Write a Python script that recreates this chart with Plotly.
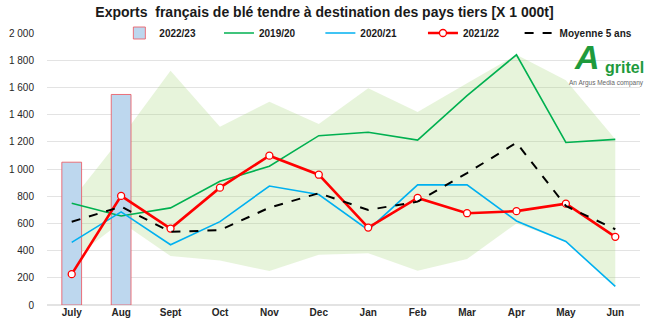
import plotly.graph_objects as go

months = ["July", "Aug", "Sept", "Oct", "Nov", "Dec", "Jan", "Feb", "Mar", "Apr", "May", "Jun"]
y2022_23 = [1050, 1548, None, None, None, None, None, None, None, None, None, None]
y2019_20 = [748, 655, 714, 910, 1020, 1245, 1270, 1213, 1540, 1840, 1195, 1218]
y2020_21 = [460, 685, 443, 613, 875, 812, 552, 883, 883, 618, 467, 137]
y2021_22 = [227, 802, 562, 863, 1098, 958, 569, 787, 675, 690, 745, 501]
avg5 = [612, 723, 538, 550, 716, 822, 699, 760, 970, 1193, 728, 557]
band_low = [330, 610, 360, 328, 250, 370, 381, 252, 338, 600, 467, 137]
band_high = [770, 1230, 1722, 1310, 1494, 1330, 1594, 1420, 1630, 1840, 1652, 1218]
yticks = list(range(0, 2001, 200))

FONT = "Liberation Sans"
fig = go.Figure()

# min/max band on base axes (drawn beneath bars)
fig.add_trace(go.Scatter(x=months, y=band_low, mode="lines", line=dict(width=0),
                         showlegend=False, hoverinfo="skip", xaxis="x", yaxis="y"))
fig.add_trace(go.Scatter(x=months, y=band_high, mode="lines", line=dict(width=0),
                         fill="tonexty", fillcolor="rgba(160,210,110,0.25)",
                         showlegend=False, hoverinfo="skip", xaxis="x", yaxis="y"))

# overlay axes: bars and lines
fig.add_trace(go.Bar(x=months, y=y2022_23, name="<b>2022/23</b>", width=0.4, legend="legend",
                     marker=dict(color="#bdd7ee", line=dict(color="rgba(235,90,100,0.85)", width=1)),
                     xaxis="x2", yaxis="y2"))
fig.add_trace(go.Scatter(x=months, y=y2019_20, name="<b>2019/20</b>", mode="lines", legend="legend2",
                         line=dict(color="#00b050", width=1.6), xaxis="x2", yaxis="y2"))
fig.add_trace(go.Scatter(x=months, y=y2020_21, name="<b>2020/21</b>", mode="lines", legend="legend3",
                         line=dict(color="#00b0f0", width=1.6), xaxis="x2", yaxis="y2"))
fig.add_trace(go.Scatter(x=months, y=y2021_22, name="<b>2021/22</b>", mode="lines+markers",
                         legend="legend4",
                         line=dict(color="#ff0000", width=2.6),
                         marker=dict(symbol="circle", size=7, color="white",
                                     line=dict(color="#ff0000", width=1.3)),
                         xaxis="x2", yaxis="y2"))
fig.add_trace(go.Scatter(x=months, y=avg5, name="<b>Moyenne 5 ans</b>", mode="lines", legend="legend5",
                         line=dict(color="black", width=2, dash="dash"), xaxis="x2", yaxis="y2"))

def leg(xp):
    return dict(orientation="h", x=xp, xanchor="left", y=1.0, yanchor="middle",
                font=dict(family=FONT, size=10, color="#1a1a1a"), itemwidth=30,
                bgcolor="rgba(0,0,0,0)")

fig.update_layout(
    width=649, height=329,
    margin=dict(l=44, r=9, t=33, b=24),
    paper_bgcolor="white", plot_bgcolor="white",
    separators=", ",
    font=dict(family=FONT, size=10, color="#262626"),
    title=dict(text="<b>Exports  français de blé tendre à destination des pays tiers [X 1 000t]</b>",
               x=0.5, xanchor="center", y=0.962, yanchor="middle",
               font=dict(family=FONT, size=14, color="#1a1a1a")),
    xaxis=dict(type="category", categoryorder="array", categoryarray=months, range=[-0.5, 11.5],
               showgrid=False, showline=False, ticks="", showticklabels=True,
               tickfont=dict(family=FONT, size=10, color="#262626"), tickprefix="<b>", ticksuffix="</b>"),
    yaxis=dict(range=[0, 2000], tickvals=yticks, tickformat=",d", showgrid=True,
               gridcolor="#e3e3e3", gridwidth=1, zeroline=True, zerolinecolor="#e3e3e3",
               showline=False, ticks="", ticklabelstandoff=12,
               tickfont=dict(family=FONT, size=10, color="#262626"), tickprefix="<b>", ticksuffix="</b>"),
    xaxis2=dict(type="category", categoryorder="array", categoryarray=months, range=[-0.5, 11.5],
                overlaying="x", showgrid=False, showticklabels=False, showline=False, ticks="",
                matches="x"),
    yaxis2=dict(range=[0, 2000], overlaying="y", showgrid=False, showticklabels=False,
                zeroline=False, showline=False, ticks="", matches="y"),
    legend=leg(0.122),
    legend2=leg(0.290),
    legend3=leg(0.461),
    legend4=leg(0.634),
    legend5=leg(0.797),
    showlegend=True,
)

# logo text
fig.add_annotation(xref="paper", yref="paper", x=1.0, y=0.852, xanchor="right", yanchor="bottom",
                   text="<b><i>A</i></b>", showarrow=False,
                   font=dict(family=FONT, size=34, color="#1e9a3c"), xshift=-38, yshift=-5)
fig.add_annotation(xref="paper", yref="paper", x=1.0, y=0.852, xanchor="right", yanchor="bottom",
                   text="<b>gritel</b>", showarrow=False,
                   font=dict(family=FONT, size=16, color="#1e9a3c"), xshift=6, yshift=-5)
fig.add_annotation(xref="paper", yref="paper", x=1.0, y=0.817, xanchor="right", yanchor="middle",
                   text="An Argus Media company", showarrow=False,
                   font=dict(family=FONT, size=6.5, color="#666666"), xshift=6)

fig.write_html("out.html")
